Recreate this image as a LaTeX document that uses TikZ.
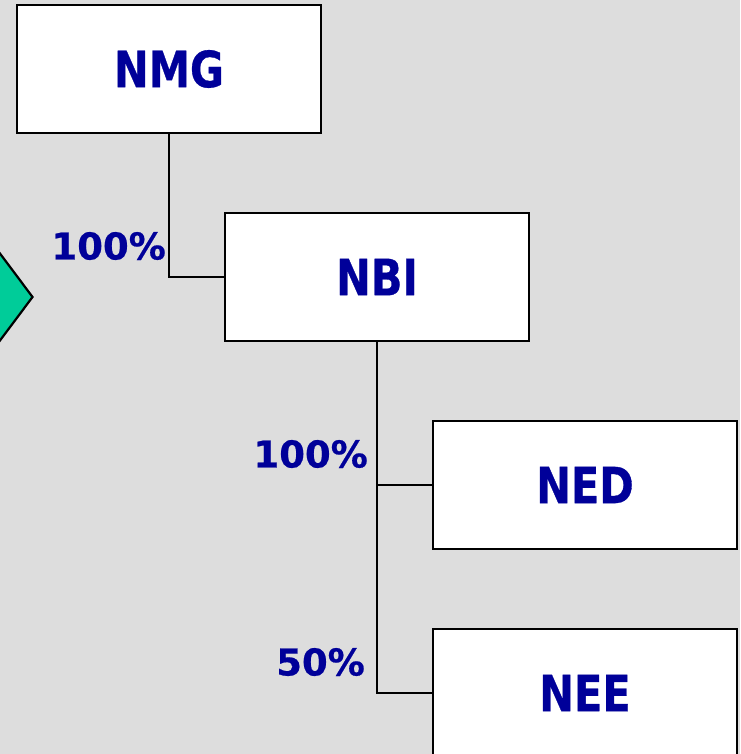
\documentclass[tikz,border=0pt]{standalone}
\usepackage{fontspec}
\setmainfont{DejaVu Sans}
\newfontfamily\boxfont[FakeStretch=0.83,FakeBold=0.6]{DejaVu Sans Bold}
\newfontfamily\pctfont[FakeBold=0.5]{DejaVu Sans Bold}
\usetikzlibrary{shapes.geometric,positioning}
\definecolor{labelblue}{HTML}{000099}
\definecolor{diamondgreen}{HTML}{00CC99}
\definecolor{slidegrey}{HTML}{DDDDDD}

\begin{document}
\begin{tikzpicture}[x=1pt, y=-1pt]
      \tikzstyle{company} = [draw, line width=2.2pt, fill=white, inner sep=0pt,
        minimum width=304pt, minimum height=128pt, text=labelblue,
        font={\boxfont\fontsize{50pt}{60pt}\selectfont}];
      \tikzstyle{share} = [anchor=east, inner sep=0pt, text=labelblue,
        font={\pctfont\fontsize{37pt}{44pt}\selectfont}];
      \tikzstyle{link} = [line width=2.2pt];
      \fill[slidegrey] (0,0) rectangle (740,754);
      \useasboundingbox (0,0) rectangle (740,754);
      \clip (0,0) rectangle (740,754);
      % partly hidden marker on the left edge
      \node (marker) [draw, line width=2.2pt, fill=diamondgreen, diamond,
        inner sep=0pt, minimum width=120pt, minimum height=160pt] at (-27,297) {};
      \foreach \name/\x/\y in {NMG/169/69, NBI/377/277, NED/585/485, NEE/585/693}{
        \node (\name) [company] at (\x,\y) {\name};
      }
      \draw[link] (NMG.south) |- (NBI.west);
      \draw[link] (NBI.south) |- (NED.west);
      \draw[link] (NBI.south) |- (NEE.west);
      \node (shareNBI) [share] at (166,246) {100\%};
      \node (shareNED) [share] at (368,454) {100\%};
      \node (shareNEE) [share] at (365,662) {50\%};
\end{tikzpicture}
\end{document}
